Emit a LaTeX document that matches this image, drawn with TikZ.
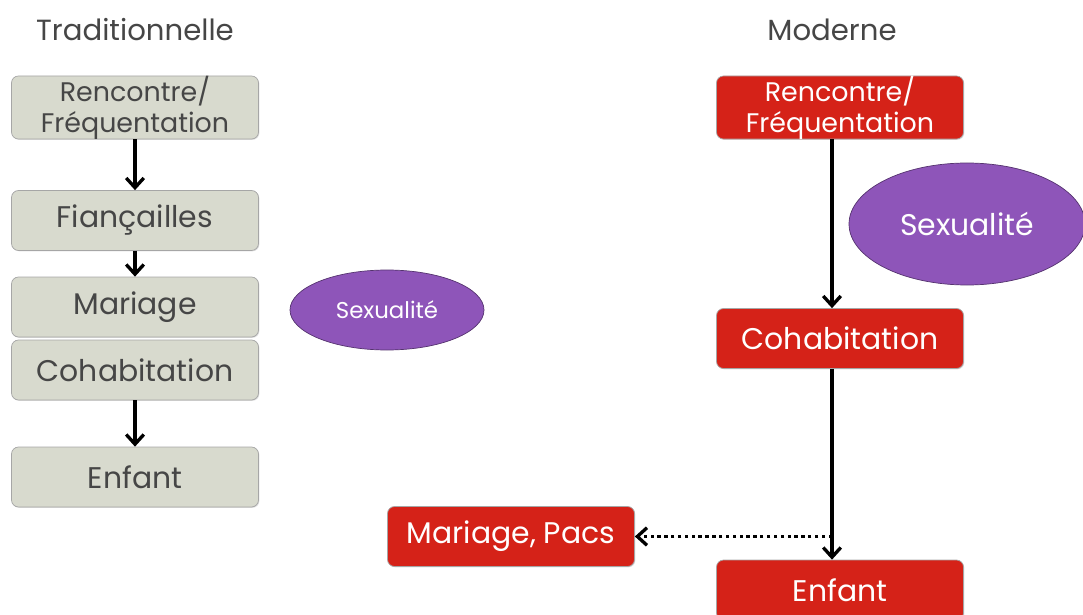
\documentclass[tikz,border=0pt]{standalone}
\usepackage{fontspec}
\setmainfont{Poppins}
\usetikzlibrary{arrows.meta,shadows,shapes.geometric}

\definecolor{boxgrey}{RGB}{216,218,206}
\definecolor{boxred}{RGB}{213,34,24}
\definecolor{ellpurple}{RGB}{142,85,185}
\definecolor{txtgrey}{RGB}{70,70,70}

\tikzset{
  grey_box/.style={rectangle,rounded corners=4pt,fill=boxgrey,draw=gray!70,
    minimum width=247*0.02cm,minimum height=60*0.02cm,inner sep=0pt,
    text=txtgrey,align=center,drop shadow={opacity=.25,shadow xshift=.5pt,shadow yshift=-.5pt}},
  red_box/.style={rectangle,rounded corners=4pt,fill=boxred,draw=gray!70,
    minimum width=247*0.02cm,minimum height=60*0.02cm,inner sep=0pt,
    text=white,align=center,drop shadow={opacity=.25,shadow xshift=.5pt,shadow yshift=-.5pt}},
  sex_ell/.style={ellipse,fill=ellpurple,draw=ellpurple!60!black,text=white,inner sep=0pt},
}

\begin{document}
\begin{tikzpicture}[
  x=0.02cm, y=-0.02cm,
  every node/.style={font=\fontsize{17}{18}\selectfont},
  flow/.style={line width=1.9pt,-{Straight Barb[length=5.5pt,width=10pt,line width=1.9pt]}},
  dotted flow/.style={flow,dotted},
  two lines/.style={font=\fontsize{15.3}{17.5}\selectfont},
  ]
  \useasboundingbox (0,0) rectangle (1083,615);

  % titles
  \node[text=txtgrey,font=\fontsize{16.6}{18}\selectfont] (ttrad) at (135,30) {Traditionnelle};
  \node[text=txtgrey,font=\fontsize{16.6}{18}\selectfont] (tmod) at (832,30) {Moderne};

  % traditional sequence
  \node[grey_box,two lines] (trenc) at (135,107.5) {Rencontre/\\Fréquentation};
  \node[grey_box] (tfian) at (135,220.5) {Fiançailles};
  \node[grey_box] (tmar) at (135,307) {Mariage};
  \node[grey_box] (tcoh) at (135,370) {Cohabitation};
  \node[grey_box] (tenf) at (135,477) {Enfant};

  \node[sex_ell,minimum width=194*0.02cm,minimum height=80*0.02cm,
    font=\fontsize{13}{14}\selectfont] (tsex) at (387,310) {Sexualité};

  \draw[flow] (trenc) -- (tfian);
  \draw[flow] (tfian) -- (tmar);
  \draw[flow] (tcoh) -- (tenf);

  % modern sequence
  \coordinate (mcol) at (832,0);
  \node[red_box,two lines] (mrenc) at (840,107.5) {Rencontre/\\Fréquentation};
  \node[red_box] (mcoh) at (840,338.5) {Cohabitation};
  \node[red_box] (menf) at (840,590) {Enfant};
  \node[red_box] (mmar) at (511,536.5) {Mariage, Pacs};

  \node[sex_ell,minimum width=236*0.02cm,minimum height=122*0.02cm] (msex) at (967,224) {Sexualité};

  \draw[flow] (mrenc.south -| mcol) -- (mcoh.north -| mcol);
  \draw[flow] (mcoh.south -| mcol) -- (menf.north -| mcol);
  \draw[dotted flow] (mmar.east -| mcol) -- (mmar.east);

\end{tikzpicture}
\end{document}
